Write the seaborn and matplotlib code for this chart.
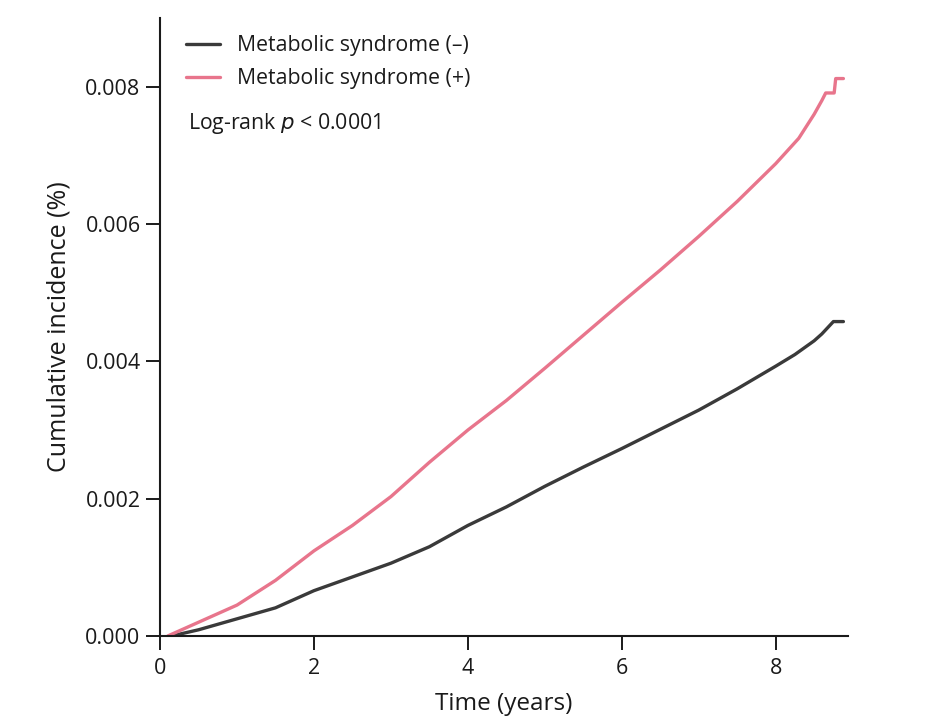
import pandas as pd
import matplotlib
matplotlib.use('Agg')
import matplotlib.pyplot as plt
import seaborn as sns

# Cumulative incidence
time_neg = [0.15, 0.5, 1.0, 1.5, 2.0, 2.5, 3.0, 3.5, 4.0, 4.5, 5.0, 5.5, 6.0,
            6.5, 7.0, 7.5, 8.0, 8.25, 8.5, 8.6, 8.7, 8.75, 8.88]
inc_neg = [0.0, 0.00009, 0.00025, 0.00041, 0.00066, 0.00086, 0.00106, 0.0013,
           0.00161, 0.00188, 0.00218, 0.00246, 0.00273, 0.00301, 0.00329, 0.0036,
           0.00393, 0.0041, 0.0043, 0.0044, 0.00452, 0.00458, 0.00458]

time_pos = [0.1, 0.5, 1.0, 1.5, 2.0, 2.5, 3.0, 3.5, 4.0, 4.5, 5.0, 5.5, 6.0,
            6.5, 7.0, 7.5, 8.0, 8.3, 8.5, 8.6, 8.65, 8.76, 8.78, 8.88]
inc_pos = [0.0, 0.0002, 0.00045, 0.00081, 0.00124, 0.00161, 0.00203, 0.00253,
           0.003, 0.00343, 0.0039, 0.00438, 0.00486, 0.00533, 0.00582, 0.00633,
           0.00688, 0.00725, 0.0076, 0.0078, 0.00791, 0.00791, 0.00812, 0.00812]

labels = ['Metabolic syndrome (–)', 'Metabolic syndrome (+)']

df = pd.concat([
    pd.DataFrame({'Time': time_neg, 'Incidence': inc_neg, 'Group': labels[0]}),
    pd.DataFrame({'Time': time_pos, 'Incidence': inc_pos, 'Group': labels[1]}),
])

sns.set_style('ticks')
plt.rcParams['font.family'] = ['Open Sans', 'DejaVu Sans']

fig = plt.figure(figsize=(9.36, 7.26), dpi=100)
ax = fig.add_axes([0.171, 0.124, 0.735, 0.851])

sns.lineplot(data=df, x='Time', y='Incidence', hue='Group',
             palette={labels[0]: '#3a3a3a', labels[1]: '#e8758c'},
             linewidth=2.4, ax=ax, estimator=None, sort=False)

ax.set_xlim(0, 8.94)
ax.set_ylim(0, 0.009)
ax.set_xticks([0, 2, 4, 6, 8])
ax.set_yticks([0, 0.002, 0.004, 0.006, 0.008])
ax.set_yticklabels(['0.000', '0.002', '0.004', '0.006', '0.008'])
ax.tick_params(labelsize=15.5, length=10, width=1.4, colors='#1a1a1a')
ax.tick_params(axis='y', pad=4)
ax.tick_params(axis='x', pad=6)
for s in ['left', 'bottom']:
    ax.spines[s].set_linewidth(1.5)
    ax.spines[s].set_color('#1a1a1a')
sns.despine(ax=ax)

ax.set_xlabel('Time (years)', fontsize=17.5, color='#1a1a1a', labelpad=9)
ax.set_ylabel('Cumulative incidence (%)', fontsize=18, color='#1a1a1a', labelpad=10)

leg = ax.legend(loc='upper left', bbox_to_anchor=(0.01, 1.003), frameon=False,
                fontsize=15.3, title=None, handlelength=1.6, handletextpad=0.8,
                labelspacing=0.55)
for t in leg.get_texts():
    t.set_color('#1a1a1a')
ax.text(0.04, 0.829, 'Log-rank $\\it{p}$ < 0.0001', transform=ax.transAxes,
        fontsize=15.3, color='#1a1a1a', va='center')

fig.savefig('out.png', dpi=100)
